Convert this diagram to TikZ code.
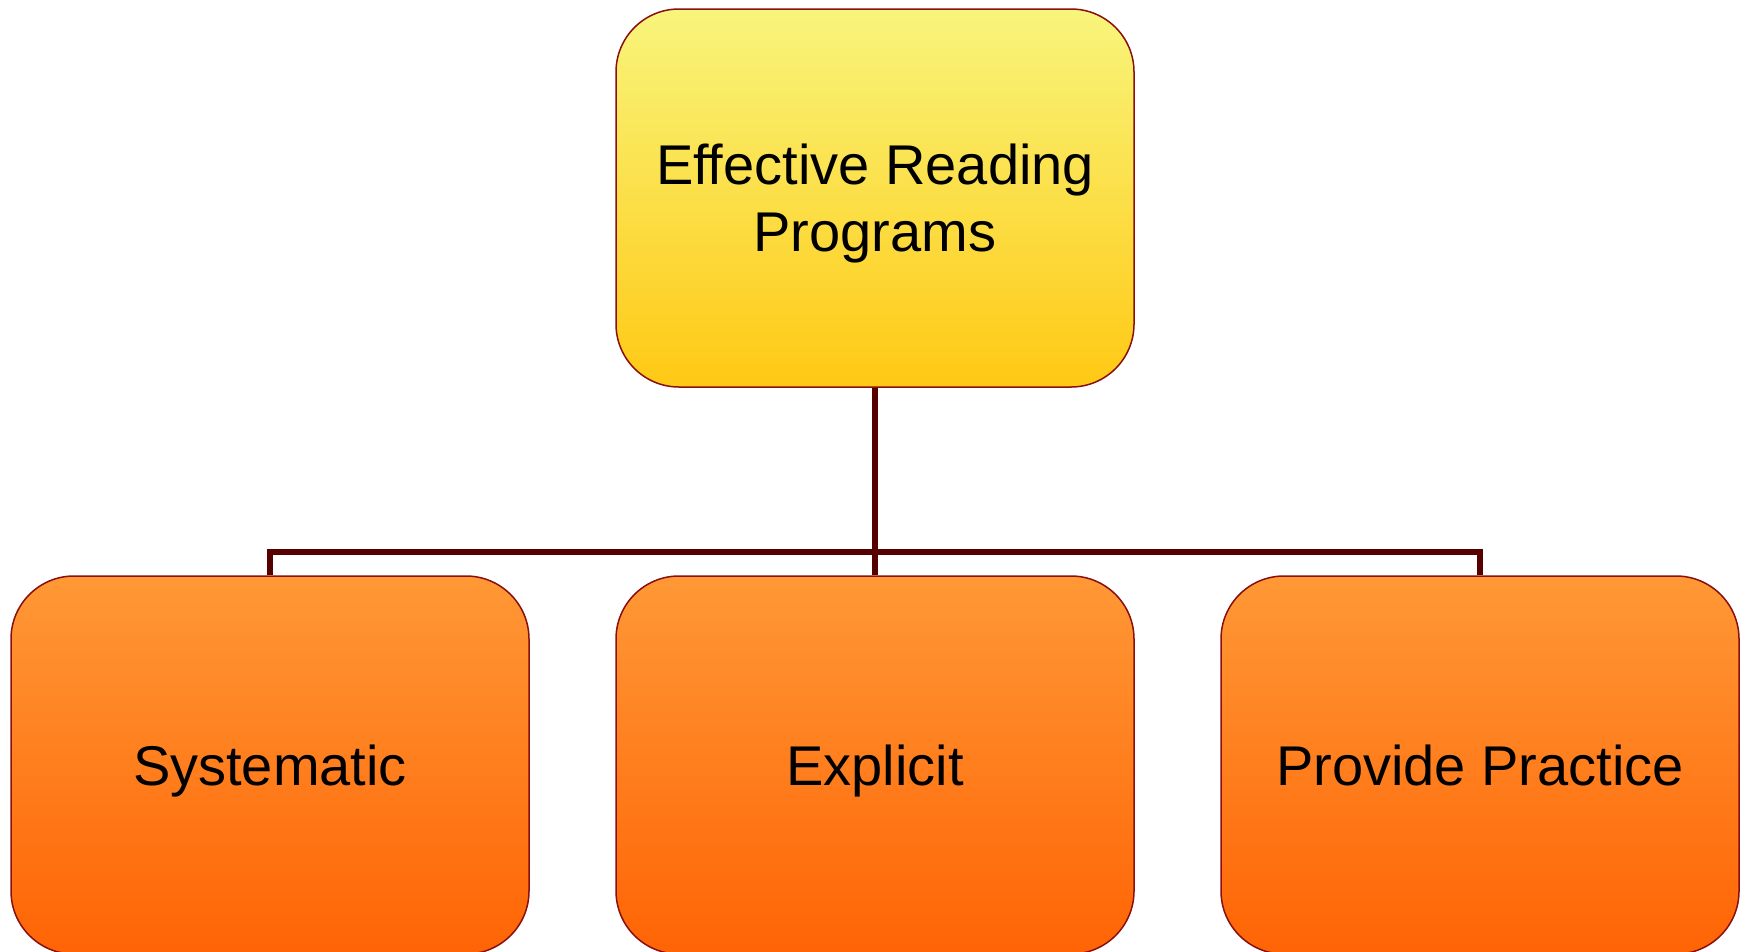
\documentclass[tikz,border=0pt]{standalone}
\usepackage{fontspec}
\setmainfont{Liberation Sans}
\usetikzlibrary{positioning}
\definecolor{boxline}{HTML}{8A0F0F}
\definecolor{connline}{HTML}{560000}
\definecolor{topA}{HTML}{F8F57C}
\definecolor{topB}{HTML}{FFC914}
\definecolor{subA}{HTML}{FF9836}
\definecolor{subB}{HTML}{FF6405}
\tikzset{
  box/.style={rectangle, rounded corners=63pt, draw=boxline, line width=1.5pt,
    minimum width=518pt, minimum height=378pt, align=center, inner sep=0pt,
    text depth=0pt, font=\fontsize{56}{67}\selectfont, text=black},
  rootbox/.style={box, top color=topA, bottom color=topB},
  leafbox/.style={box, top color=subA, bottom color=subB},
  conn/.style={draw=connline, line width=6pt, line join=miter}
}
\begin{document}
\begin{tikzpicture}[x=1pt, y=-1pt]
  \useasboundingbox (0,0) rectangle (1747,951);
  % program boxes
  \node[rootbox] (root) at (875,198) {Effective Reading\\Programs};
  \node[leafbox] (sys) at (270,765) {Systematic};
  \node[leafbox] (exp) at (875,765) {Explicit};
  \node[leafbox] (pra) at (1480,765) {Provide Practice};
  % bus line joining the root to its three children
  \coordinate (bus) at (875,551.5);
  \draw[conn] (root.south) -- (exp.north);
  \draw[conn] (sys.north) |- (bus) -| (pra.north);
\end{tikzpicture}
\end{document}
